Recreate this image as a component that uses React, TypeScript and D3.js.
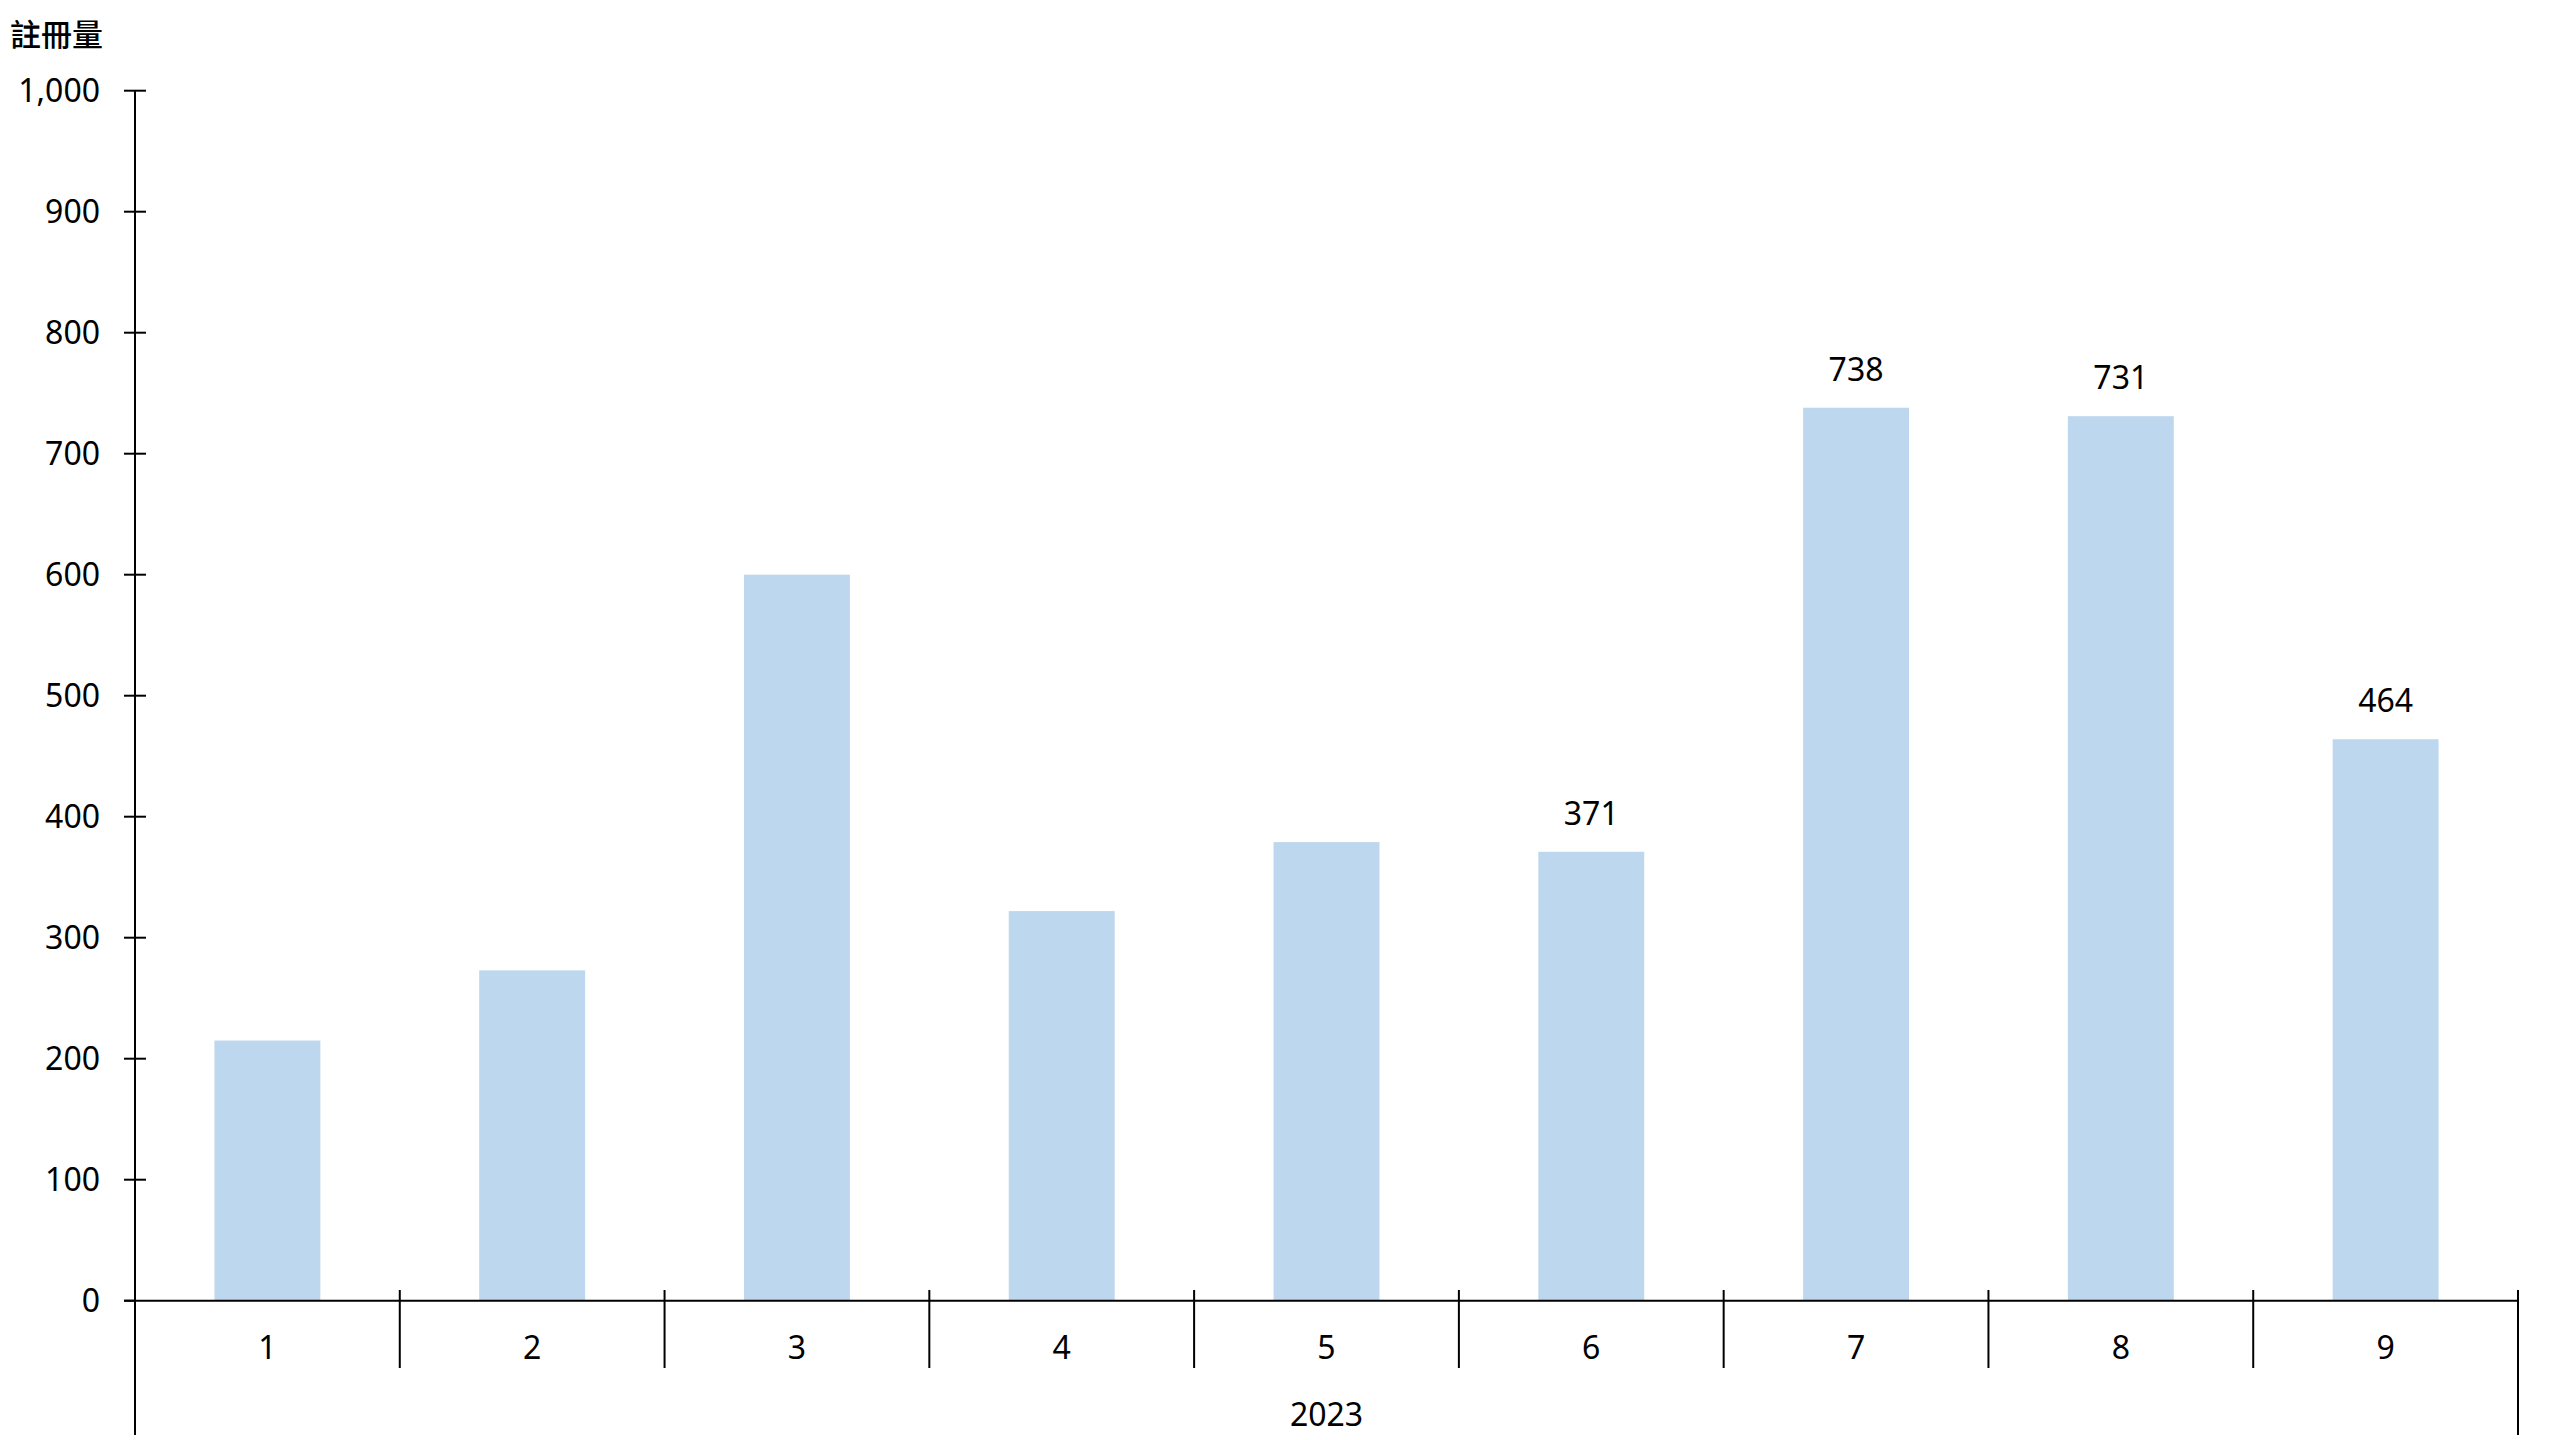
import React from "react";
import * as d3 from "d3";

const months = ["1", "2", "3", "4", "5", "6", "7", "8", "9"];
const values = [215, 273, 600, 322, 379, 371, 738, 731, 464];
const showLabel = [false, false, false, false, false, true, true, true, true];
const yearLabel = "2023";
const yTicks = [0, 100, 200, 300, 400, 500, 600, 700, 800, 900, 1000];
const yTitle = "註冊量";

const W = 2560;
const H = 1440;
const left = 135;
const right = 2518;
const top = 90.7;
const bottom = 1300.7;
const FONT = "'Noto Sans', 'Open Sans', sans-serif";

export default function App() {
  const x = d3.scaleBand<string>().domain(months).range([left, right]).paddingInner(0.6).paddingOuter(0.3);
  const xOuter = d3.scaleBand<string>().domain(months).range([left, right]).padding(0);
  const y = d3.scaleLinear().domain([0, 1000]).range([bottom, top]);
  const fmt = d3.format(",");
  const step = xOuter.step();

  return (
    <svg width={W} height={H} style={{ position: "absolute", left: 0, top: 0, background: "#fff" }}>
      <rect x={0} y={0} width={W} height={H} fill="#fff" />
      <text x={10} y={32} dominantBaseline="central" fontFamily="'Noto Sans CJK TC', sans-serif" fontSize={31} fontWeight={500} fill="#000">
        {yTitle}
      </text>
      {/* bars */}
      {values.map((v, i) => (
        <rect key={i} x={x(months[i])} y={y(v)} width={x.bandwidth()} height={y(0) - y(v)} fill="#BDD7EE" />
      ))}
      {/* data labels */}
      {values.map((v, i) =>
        showLabel[i] ? (
          <text key={i} x={(x(months[i]) as number) + x.bandwidth() / 2} y={y(v) - 27} textAnchor="middle" fontFamily={FONT} fontSize={32} fill="#000">
            {v}
          </text>
        ) : null
      )}
      {/* y axis */}
      <line x1={left} x2={left} y1={top} y2={1435} stroke="#000" strokeWidth={2} />
      {yTicks.map((t) => (
        <g key={t}>
          <line x1={124} x2={t === 0 ? left : 146} y1={y(t)} y2={y(t)} stroke="#000" strokeWidth={2} />
          <text x={100} y={y(t) - 1} textAnchor="end" dominantBaseline="central" fontFamily={FONT} fontSize={32} fill="#000">
            {fmt(t)}
          </text>
        </g>
      ))}
      {/* x axis */}
      <line x1={124} x2={right} y1={bottom} y2={bottom} stroke="#000" strokeWidth={2} />
      {months.map((m, i) => {
        const bx = (xOuter(m) as number) + step;
        const last = i === months.length - 1;
        return (
          <g key={m}>
            <line x1={bx} x2={bx} y1={1290} y2={last ? 1435 : 1368} stroke="#000" strokeWidth={2} />
            <text x={(xOuter(m) as number) + step / 2} y={1346} textAnchor="middle" dominantBaseline="central" fontFamily={FONT} fontSize={32} fill="#000">
              {m}
            </text>
          </g>
        );
      })}
      <text x={(left + right) / 2} y={1413} textAnchor="middle" dominantBaseline="central" fontFamily={FONT} fontSize={32} fill="#000">
        {yearLabel}
      </text>
    </svg>
  );
}
